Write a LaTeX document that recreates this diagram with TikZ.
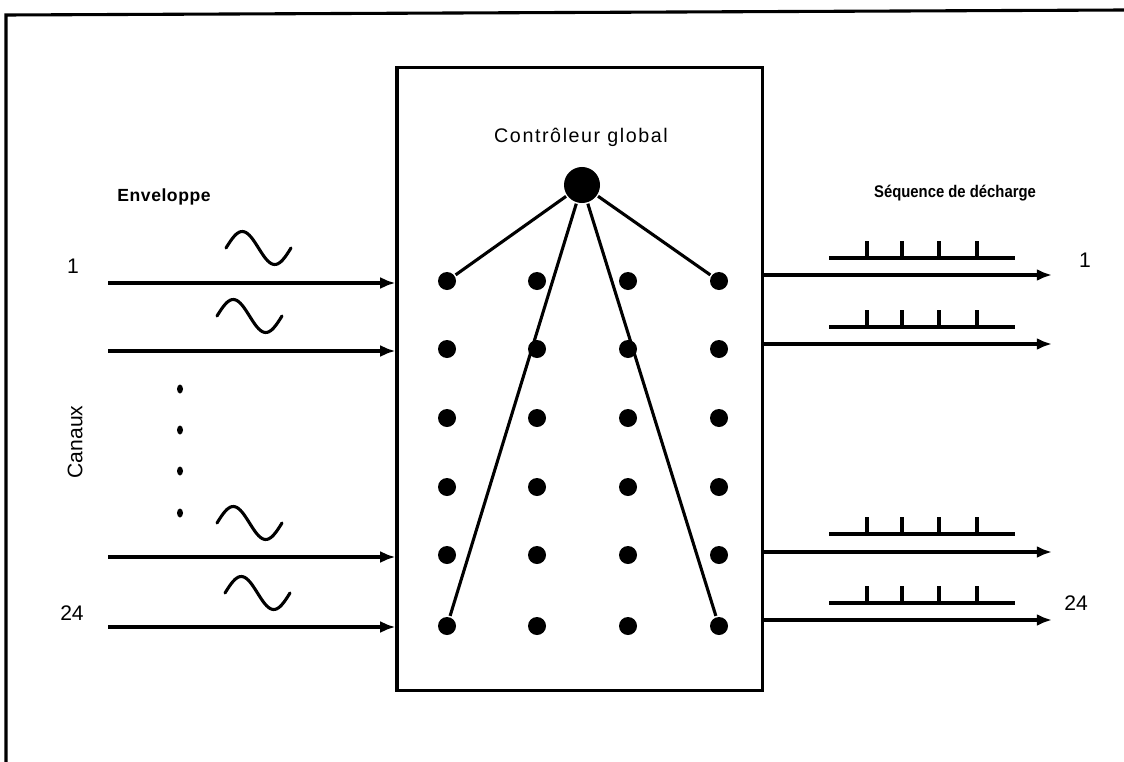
\documentclass[tikz,border=0pt]{standalone}
\usepackage{fontspec}
\setmainfont{Liberation Sans}
\usetikzlibrary{arrows.meta}
\tikzset{
  cell/.style={circle,fill,inner sep=0pt,minimum size=0.45cm},
  master/.style={circle,fill,inner sep=0pt,minimum size=0.9cm},
  numlabel/.style={font=\fontsize{15}{17}\selectfont},
}
\begin{document}
\begin{tikzpicture}[x=0.025cm,y=-0.025cm,>={Latex[length=0.38cm,width=0.3cm]},line width=2.2pt]
  \useasboundingbox (0,0) rectangle (1124,762);
  % outer frame
  \draw (6,762) -- (6,15) -- (1124,10);
  % controller box
  \node[draw,minimum width=9.125cm,minimum height=15.55cm] (ctrl) at (579.5,379) {};
  \node[font=\fontsize{14}{16}\selectfont\addfontfeatures{LetterSpace=8}] (title) at (581,137) {Contrôleur global};
  \node[master] (glob) at (582,185) {};
  % grid of cells
  \foreach \c/\x in {1/447,2/537,3/628,4/719}
    \foreach \r/\y in {1/281,2/349,3/418,4/487,5/555,6/626}
      \node[cell] (d-\c-\r) at (\x,\y) {};
  % links
  \draw (glob) -- (d-1-1);
  \draw (glob) -- (d-1-6);
  \draw (glob) -- (d-4-6);
  \draw (glob) -- (d-4-1);
  % inputs
  \foreach \i/\y in {1/283,2/351,3/557,4/627} {
    \coordinate (in\i) at (108,\y);
    \draw[->] (in\i) -- (in\i -| ctrl.west);
  }
  % outputs
  \foreach \i/\y in {1/275,2/344,3/552,4/620} {
    \coordinate (out\i) at (1052,\y);
    \draw[->] (out\i -| ctrl.east) -- (out\i);
  }
  % envelopes
  \foreach \a/\b in {226/248,217/316,217/523,225/593}
    \draw[line cap=round] plot[variable=\t,domain=0:360,smooth,samples=40] ({\a+\t/360*65},{\b-16.5*sin(\t)});
  % spike trains
  \foreach \y in {258,327,534,603} {
    \draw (829,\y) -- (1015,\y);
    \foreach \s in {867,902,939,977}
      \draw (\s,\y) -- (\s,\y-17);
  }
  % channel dots
  \foreach \y in {389,430,471,513}
    \fill (180,\y) ellipse[x radius=3,y radius=4.5];
  % labels
  \node[numlabel] (in-first) at (73,266) {1};
  \node[numlabel] (in-last) at (72,613) {24};
  \node[numlabel] (out-first) at (1085,260) {1};
  \node[numlabel] (out-last) at (1076,603) {24};
  \node[font=\bfseries\fontsize{12.5}{14}\selectfont\addfontfeatures{LetterSpace=3}] (env) at (164,197) {Enveloppe};
  \node[font=\bfseries\fontsize{12}{14}\selectfont\addfontfeatures{FakeStretch=0.88}] (seq) at (955,193) {Séquence de décharge};
  \node[rotate=90,font=\fontsize{15}{17}\selectfont] (chan) at (75,442) {Canaux};
\end{tikzpicture}
\end{document}
